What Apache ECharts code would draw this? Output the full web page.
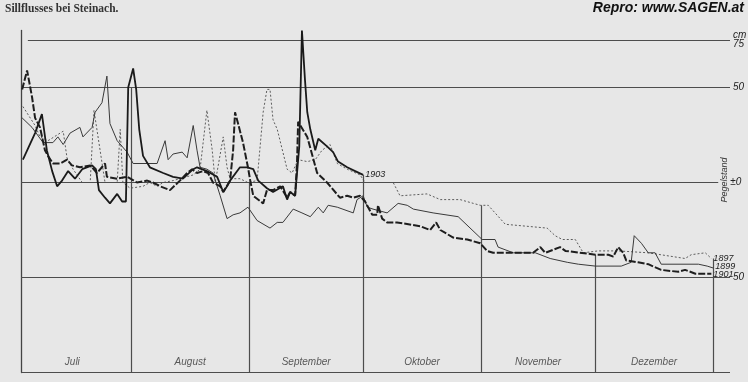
<!DOCTYPE html>
<html><head><meta charset="utf-8">
<script src="https://cdn.jsdelivr.net/npm/echarts@6/dist/echarts.min.js"></script>
<style>html,body{margin:0;padding:0;background:#e7e7e7}#c{width:748px;height:382px}</style>
</head><body><div id="c"></div>
<script>
// x = day counted from 1 July (month boundaries at day 31, 62, 92, 123, 153, 184); y = Pegelstand in cm
const monthNames = ['Juli','August','September','Oktober','November','Dezember'];
const monthEnds = [31,62,92,123,153,184];
const monthLineTops = [50,0,4,-12,-38,-40];
const levelValues = [75,50,0,-50,-100];
const levelLabels = ['cm\n75','50','±0','50',''];

const days1897 = [2.5,5.7,7,9.1,11.5,13.1,14.1,15.7,18.1,20.2,21.2,22.8,24.1,27.3,28.1,28.8,30.7,34.1,35.9,37.8,39.4,42,43.8,47.3,49.1,50.9,52.3,53.1,53.8,55.2,56.2,57,59.6,61.7,64.1,65.7,66.7,67.5,68.3,69.4,72,73.3,74.9,77.3,79.4,81.2,83.3,85.2,87.8,91.2,92.5,99.9,101.7,108.8,112.3,117.5,121,122.8,124.9,129.4,140.4,142.5,144.4,147.8,149.9,153.8,159.1,167,176.7,178.3,182,183.6];
const vals1897 = [40,30,24,22,25,27,13,7,0,0,38,17,0,0,28,0,-3,-2,0,-2,0,1,2,4,7,38,17,0,8,24,8,2,2,0,1,37,49,49,33,28,7,5,12,11,12,17,20,10,7,4,0,0,-7,-6,-9,-9,-11,-12,-12,-22,-24,-28,-30,-30,-37,-36,-36,-37,-40,-38,-37,-40];

const days1899 = [2.3,4.9,7.8,10.4,11.7,13.1,14.9,17.5,18.3,20.7,21.5,23.3,24.6,25.4,27.3,29.9,31.5,35.2,37.8,39.9,40.7,42,44.4,45.7,47.3,48.3,49.1,50.9,52.5,54.4,56.2,57.8,59.6,61.7,64.1,67.5,69.4,70.9,73.6,75.9,78.1,80.2,81.5,82.8,85.2,89.4,90.4,92,93.1,94.6,98.3,101.2,103.6,105.2,110.4,117,123.3,126.7,127.5,131.5,137.3,141.2,145.7,148.6,153.1,159.9,162.5,163.3,165.2,167,168.8,170.4,180.2,180.7,182.5,184.1];
const vals1899 = [34,29,21,21,24,20,26,29,24,29,37,42,56,31,22,16,10,10,10,22,12,15,16,13,30,17,8,7,5,-7,-19,-17,-16,-13,-20,-24,-21,-21,-14,-16,-18,-13,-16,-12,-13,-16,-9,-7,-13,-14,-16,-11,-12,-14,-16,-18,-30,-30,-34,-37,-37,-40,-42,-43,-44,-44,-42,-28,-32,-37,-37,-43,-43,-42,-44,-45];

const days1901 = [2.3,3.6,4.9,5.7,7,8.3,9.1,10.4,12.3,14.1,15.4,17.5,20.2,22,24.1,24.6,27.3,29.9,32.5,35.2,36.7,38.6,41.2,43.8,45.7,47,48.3,49.9,51.2,52.5,54.4,55.2,57,57.8,58.3,59.1,60.4,61.7,62.3,63.1,65.7,66.7,68.3,70.2,72,72.8,74.1,74.6,74.9,77.3,79.9,82.5,85.9,87.8,89.4,91.2,92.5,94.4,95.7,95.9,97,98.3,100.9,107,109.6,111.2,112.3,115.7,119.4,122.8,124.6,126.2,131.5,135.2,136.7,138.6,139.9,143.8,145.2,153.1,156.5,157.8,159.1,160.4,161.2,164.3,167,170.4,174.9,176.7,179.4,183.6];
const vals1901 = [49,59,45,34,29,17,14,10,10,12,9,8,9,5,10,3,2,3,0,1,0,-2,-4,1,5,7,5,6,5,0,-2,-5,1,17,37,31,21,8,1,-7,-11,-4,-4,-2,-8,-5,-7,10,32,24,5,0,-8,-7,-8,-7,-10,-17,-17,-12,-19,-21,-21,-23,-25,-21,-25,-29,-30,-32,-36,-37,-37,-37,-37,-34,-37,-34,-36,-38,-38,-39,-34,-37,-41,-42,-43,-46,-47,-46,-48,-48];

const days1903 = [2.5,5.7,7.5,8.8,10.2,11.5,12.8,14.4,16.2,18.1,20.7,21.7,22.5,24.1,25.4,27.3,28.6,29.6,30.2,31.5,32.3,33.1,34.1,35.9,39.4,42,44.6,47.3,48.3,50.9,53.6,55.2,56.2,57,59.6,61.5,63.1,64.4,66.7,68.3,70.9,72,72.8,74.1,75.2,75.9,76.7,77.3,78.1,79.4,80.2,82.5,84.1,85.4,87.8,89.9,92];
const vals1903 = [12,26,36,17,6,-2,1,6,2,7,9,7,-4,-8,-11,-6,-10,-10,50,60,49,28,14,8,5,3,2,7,8,6,3,-5,-2,1,8,8,7,1,-3,-5,-2,-9,-5,-7,19,80,54,37,28,17,23,19,16,11,8,6,4];

const pairs = (ds, vs) => ds.map((d, i) => [d, vs[i]]);
const peak1903 = Math.max(...vals1903);
const data1903 = pairs(days1903, vals1903).map(p => p[1] === peak1903
  ? { value: p, label: { show: true, position: 'right', distance: 2, formatter: '+' + peak1903, fontSize: 9.5, fontStyle: 'italic', color: '#222', fontFamily: 'Liberation Sans' } }
  : p);

const italic = { fontFamily: 'Liberation Sans', fontStyle: 'italic', fontSize: 10, color: '#222' };
const X_MIN = 2, X_MAX = 188.5, ZERO_END = 185.4;

const levelLines = levelValues.map((lv, i) => [
  { coord: [lv === 75 ? 3.8 : X_MIN, lv] },
  { coord: [lv === 0 ? ZERO_END : X_MAX, lv], label: Object.assign({ show: levelLabels[i] !== '', position: 'end', distance: lv === 0 ? 12 : 3, formatter: levelLabels[i], lineHeight: 9 }, italic) }
]);
const monthLines = monthEnds.map((m, i) => [
  { coord: [m, -100] }, { coord: [m, monthLineTops[i]], label: { show: false } }
]);
const monthStarts = [0].concat(monthEnds.slice(0, -1));
const monthLabelData = monthNames.map((n, i) => ({ name: n, value: [(monthStarts[i] + monthEnds[i]) / 2, -94.5] }));

function yearSeries(name, data, style, z, dy) {
  return {
    name: name, type: 'line', data: data, showSymbol: false, symbol: 'none', z: z,
    lineStyle: style, emphasis: { disabled: true },
    endLabel: Object.assign({ show: true, formatter: name, distance: 2, offset: [0, dy] }, italic, { fontSize: 9 })
  };
}

const chart = echarts.init(document.getElementById('c'), null, { renderer: 'canvas' });
chart.setOption({
  animation: false,
  backgroundColor: '#e7e7e7',
  grid: { left: 21, right: 18, top: 30.5, bottom: 9.5 },
  xAxis: { type: 'value', min: X_MIN, max: X_MAX, show: false },
  yAxis: {
    type: 'value', min: -100, max: 80,
    axisLine: { show: true, lineStyle: { color: '#444', width: 1.3 } },
    axisTick: { show: false }, axisLabel: { show: false }, splitLine: { show: false }
  },
  graphic: [
    { type: 'text', left: 5, top: 3, style: { text: 'Sillflusses bei Steinach.', font: 'bold 11.5px "Liberation Serif"', fill: '#333' } },
    { type: 'text', right: 4, top: 1, style: { text: 'Repro: www.SAGEN.at', font: 'italic bold 14px "Liberation Sans"', fill: '#111' } },
    { type: 'text', x: 724, y: 180, rotation: Math.PI / 2, style: { text: 'Pegelstand', font: 'italic 9px "Liberation Sans"', fill: '#333', align: 'center', verticalAlign: 'middle' } }
  ],
  series: [
    {
      type: 'line', data: [[X_MIN, -100]], showSymbol: false, symbol: 'none', silent: true, z: 1,
      lineStyle: { opacity: 0 },
      markLine: {
        silent: true, symbol: ['none', 'none'], animation: false,
        lineStyle: { color: '#4d4d4d', width: 1.2, type: 'solid' },
        emphasis: { disabled: true },
        data: levelLines.concat(monthLines)
      }
    },
    {
      type: 'scatter', data: monthLabelData, symbolSize: 0, silent: true, z: 3,
      label: Object.assign({ show: true, position: 'inside', formatter: '{b}' }, italic, { color: '#333' })
    },
    yearSeries('1897', pairs(days1897, vals1897), { color: '#5c5c5c', width: 1, type: [2, 2] }, 4, 0),
    yearSeries('1899', pairs(days1899, vals1899), { color: '#3a3a3a', width: 1 }, 5, -2),
    yearSeries('1901', pairs(days1901, vals1901), { color: '#1e1e1e', width: 2, type: [7, 2] }, 6, 1),
    yearSeries('1903', data1903, { color: '#1a1a1a', width: 1.8 }, 7, 0)
  ]
});
</script></body></html>
